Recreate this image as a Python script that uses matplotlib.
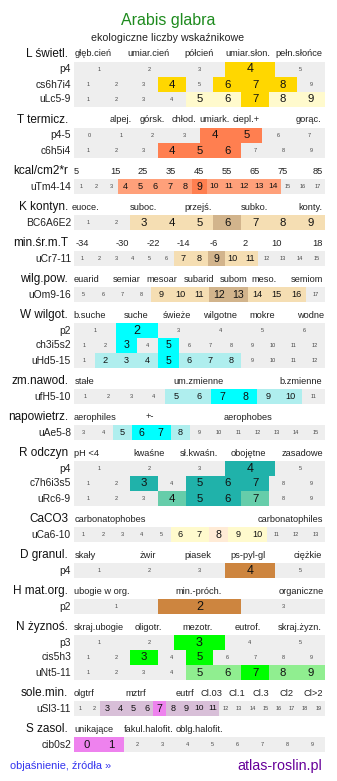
import matplotlib
matplotlib.use("Agg")
import matplotlib.pyplot as plt

plt.rcParams['font.family'] = ['Liberation Sans', 'DejaVu Sans']

# ---- dane ----
title = 'Arabis glabra'
subtitle = 'ekologiczne liczby wskaźnikowe'

# poziom podświetlenia komórek: 0 - brak, 1 - jasny, 2 - mocny
L_head = ['głęb.cień', 'umiar.cień', 'półcień', 'umiar.słon.', 'pełn.słońce']
L_rows = ['p4', 'cs6h7i4', 'uLc5-9']
L_first = [1, 1, 1]
L_lev = [[0, 0, 0, 2, 0],
         [0, 0, 0, 2, 0, 2, 2, 2, 0],
         [0, 0, 0, 0, 1, 1, 2, 1, 1]]

T_head = ['alpej.', 'górsk.', 'chłod.', 'umiark.', 'ciepl.+', 'gorąc.']
T_rows = ['p4-5', 'c6h5i4']
T_first = [0, 1]
T_lev = [[0, 0, 0, 0, 2, 2, 0, 0],
         [0, 0, 0, 2, 2, 2, 0, 0, 0]]

kc_head = ['5', '15', '25', '35', '45', '55', '65', '75', '85']
kc_rows = ['uTm4-14']
kc_first = [1]
kc_lev = [[0, 0, 0, 1, 1, 1, 1, 1, 2, 1, 1, 1, 1, 1, 0, 0, 0]]

K_head = ['euoce.', 'suboc.', 'przejś.', 'subko.', 'konty.']
K_rows = ['BC6A6E2']
K_first = [1]
K_lev = [[0, 0, 1, 1, 1, 2, 1, 1, 1]]

mt_head = ['-34', '-30', '-22', '-14', '-6', '2', '10', '18']
mt_rows = ['uCr7-11']
mt_first = [1]
mt_lev = [[0, 0, 0, 0, 0, 0, 1, 1, 2, 1, 1, 0, 0, 0, 0]]

wp_head = ['euarid', 'semiar', 'mesoar', 'subarid', 'subom', 'meso.', 'semiom']
wp_rows = ['uOm9-16']
wp_first = [5]
wp_lev = [[0, 0, 0, 0, 1, 1, 1, 2, 2, 1, 1, 1, 0]]

W_head = ['b.suche', 'suche', 'świeże', 'wilgotne', 'mokre', 'wodne']
W_rows = ['p2', 'ch3i5s2', 'uHd5-15']
W_first = [1, 1, 1]
W_lev = [[0, 2, 0, 0, 0, 0],
         [0, 0, 2, 0, 2, 0, 0, 0, 0, 0, 0, 0],
         [0, 1, 1, 1, 2, 1, 1, 1, 0, 0, 0, 0]]

zn_head = ['stałe', 'um.zmienne', 'b.zmienne']
zn_rows = ['ufH5-10']
zn_first = [1]
zn_lev = [[0, 0, 0, 0, 1, 1, 2, 2, 1, 1, 0]]

ae_head = ['aerophiles', '+-', 'aerophobes']
ae_rows = ['uAe5-8']
ae_first = [3]
ae_lev = [[0, 0, 1, 2, 2, 1, 0, 0, 0, 0, 0, 0, 0]]

R_head = ['pH <4', 'kwaśne', 'sł.kwaśn.', 'obojętne', 'zasadowe']
R_rows = ['p4', 'c7h6i3s5', 'uRc6-9']
R_first = [1, 1, 1]
R_lev = [[0, 0, 0, 2, 0],
         [0, 0, 2, 0, 2, 2, 2, 0, 0],
         [0, 0, 0, 1, 2, 2, 1, 0, 0]]

Ca_head = ['carbonatophobes', 'carbonatophiles']
Ca_rows = ['uCa6-10']
Ca_first = [1]
Ca_lev = [[0, 0, 0, 0, 0, 1, 1, 2, 1, 1, 0, 0, 0]]

D_head = ['skały', 'żwir', 'piasek', 'ps-pyl-gl', 'ciężkie']
D_rows = ['p4']
D_first = [1]
D_lev = [[0, 0, 0, 2, 0]]

H_head = ['ubogie w org.', 'min.-próch.', 'organiczne']
H_rows = ['p2']
H_first = [1]
H_lev = [[0, 2, 0]]

N_head = ['skraj.ubogie', 'oligotr.', 'mezotr.', 'eutrof.', 'skraj.żyzn.']
N_rows = ['p3', 'cis5h3', 'uNt5-11']
N_first = [1, 1, 1]
N_lev = [[0, 0, 2, 0, 0],
         [0, 0, 2, 0, 2, 0, 0, 0, 0],
         [0, 0, 0, 0, 1, 1, 2, 1, 1]]

sm_head = ['olgtrf', 'mztrf', 'eutrf', 'Cl.03', 'Cl.1', 'Cl.3', 'Cl2', 'Cl>2']
sm_rows = ['uSl3-11']
sm_first = [1]
sm_lev = [[0, 0, 1, 1, 1, 1, 2, 1, 1, 1, 1, 0, 0, 0, 0, 0, 0, 0, 0]]

S_head = ['unikające', 'fakul.halofit.', 'oblg.halofit.']
S_rows = ['cib0s2']
S_first = [0]
S_lev = [[2, 2, 0, 0, 0, 0, 0, 0, 0, 0]]

# ---- położenie nagłówków (px) i kolory ----
L_hx = [93, 148, 199, 248, 299]
T_hx = [121, 152, 184, 215, 246, 309]
kc_hx = [76, 115, 143, 171, 199, 227, 255, 283, 318]
K_hx = [86, 143, 198, 254, 310]
mt_hx = [82, 122, 153, 183, 214, 245, 276, 317]
wp_hx = [86, 127, 162, 199, 234, 264, 307]
W_hx = [90, 136, 177, 220, 262, 311]
zn_hx = [85, 199, 301]
ae_hx = [95, 150, 248]
R_hx = [86, 149, 199, 248, 302]
Ca_hx = [110, 290]
D_hx = [85, 148, 198, 248, 308]
H_hx = [102, 199, 301]
N_hx = [99, 148, 198, 248, 300]
sm_hx = [84, 136, 185, 211, 237, 261, 286, 313]
S_hx = [94, 149, 199]

sections = [
    ('L świetl.', L_head, L_hx, L_rows, L_first, L_lev, ('#FFFACD', '#FFD700')),
    ('T termicz.', T_head, T_hx, T_rows, T_first, T_lev, ('#FFA07A', '#FF7F50')),
    ('kcal/cm2*r', kc_head, kc_hx, kc_rows, kc_first, kc_lev, ('#FFA07A', '#FF7F50')),
    ('K kontyn.', K_head, K_hx, K_rows, K_first, K_lev, ('#F5DEB3', '#D2B48C')),
    ('min.śr.m.T', mt_head, mt_hx, mt_rows, mt_first, mt_lev, ('#F5DEB3', '#D2B48C')),
    ('wilg.pow.', wp_head, wp_hx, wp_rows, wp_first, wp_lev, ('#F5DEB3', '#D2B48C')),
    ('W wilgot.', W_head, W_hx, W_rows, W_first, W_lev, ('#AFEEEE', '#00FFFF')),
    ('zm.nawod.', zn_head, zn_hx, zn_rows, zn_first, zn_lev, ('#AFEEEE', '#00FFFF')),
    ('napowietrz.', ae_head, ae_hx, ae_rows, ae_first, ae_lev, ('#AFEEEE', '#00FFFF')),
    ('R odczyn', R_head, R_hx, R_rows, R_first, R_lev, ('#66CDAA', '#20B2AA')),
    ('CaCO3', Ca_head, Ca_hx, Ca_rows, Ca_first, Ca_lev, ('#FFFACD', '#FFEBD6')),
    ('D granul.', D_head, D_hx, D_rows, D_first, D_lev, ('#CD853F', '#CD853F')),
    ('H mat.org.', H_head, H_hx, H_rows, H_first, H_lev, ('#CD853F', '#CD853F')),
    ('N żyznoś.', N_head, N_hx, N_rows, N_first, N_lev, ('#90EE90', '#00FF00')),
    ('sole.min.', sm_head, sm_hx, sm_rows, sm_first, sm_lev, ('#D8BFD8', '#EE82EE')),
    ('S zasol.', S_head, S_hx, S_rows, S_first, S_lev, ('#EE82EE', '#EE82EE')),
]


def num_size(level, w, txt):
    # rozmiar liczby zależny od szerokości komórki
    if level == 0:
        return 4
    if w >= 40:
        return 9
    if w >= 25:
        return 8.2
    if level == 2:
        return 7.6
    return 6.0 if (len(txt) > 1 and w < 15) else 6.6


fig = plt.figure(figsize=(3.37, 7.81), dpi=100)
ax = fig.add_axes([0, 0, 1, 1])
ax.set_xlim(0, 337)
ax.set_ylim(781, 0)
ax.axis('off')

ax.text(168, 20, title, ha='center', va='center', fontsize=11.5, color='#1E8B1E')
ax.text(168, 38, subtitle, ha='center', va='center', fontsize=7.7, color='#222222')

x0, x1 = 74, 325
row_h = 15
hy = 54
for name, head, hx, rows, firsts, levs, cols in sections:
    ax.text(68, hy, name, ha='right', va='center', fontsize=8.5, color='#111111')
    for lab, x in zip(head, hx):
        ax.text(x, hy, lab, ha='center', va='center', fontsize=6.7, color='#222222')
    top = hy + 8
    for i, (rlab, first, lev) in enumerate(zip(rows, firsts, levs)):
        yc = top + row_h / 2 + i * row_h
        n = len(lev)
        w = (x1 - x0) / n
        lefts = [x0 + k * w for k in range(n)]
        colors = ['#EEEEEE' if v == 0 else cols[v - 1] for v in lev]
        ax.barh(yc, w, left=lefts, height=row_h, color=colors, linewidth=0)
        ax.text(71, yc, rlab, ha='right', va='center', fontsize=7.4, color='#222222')
        for k, v in enumerate(lev):
            num = str(first + k)
            ax.text(lefts[k] + w / 2, yc, num, ha='center', va='center',
                    fontsize=num_size(v, w, num),
                    color='#444444' if v == 0 else '#111111')
    hy = top + len(rows) * row_h + 13

ax.text(10, 766, 'objaśnienie, źródła »', ha='left', va='center', fontsize=7.9, color='#3333EE')
ax.text(322, 766, 'atlas-roslin.pl', ha='right', va='center', fontsize=10.3, color='#660099')

fig.savefig('out.png', dpi=100)
